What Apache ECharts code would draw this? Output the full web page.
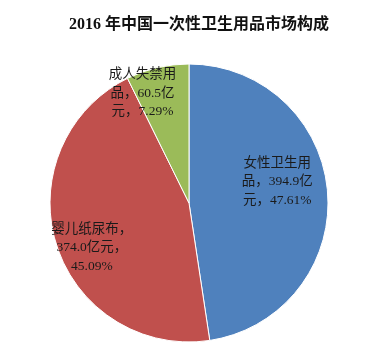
<!DOCTYPE html>
<html><head><meta charset="utf-8">
<script src="https://cdn.jsdelivr.net/npm/echarts@6/dist/echarts.min.js"></script>
<style>html,body{margin:0;padding:0;background:#fff;}#c{width:374px;height:359px;}</style>
</head><body><div id="c"></div>
<script>
const titleText = '2016 年中国一次性卫生用品市场构成';
const categories = ['女性卫生用品', '婴儿纸尿布', '成人失禁用品'];
const values = [394.9, 374.0, 60.5];
const percents = ['47.61%', '45.09%', '7.29%'];
const labelTexts = [
  '女性卫生用\n品，394.9亿\n元，47.61%',
  '婴儿纸尿布，\n374.0亿元，\n45.09%',
  '成人失禁用\n品，60.5亿\n元，7.29%'
];
const colors = ['#4F81BD', '#C0504D', '#9BBB59'];
const offsets = [[16, -16], [-28, 23], [-30, -39]];

const chart = echarts.init(document.getElementById('c'));
chart.setOption({
  animation: false,
  title: {
    text: titleText, left: 194, top: 12, textAlign: 'center',
    textStyle: { fontFamily: 'Liberation Serif, Noto Sans CJK SC', fontSize: 16, fontWeight: 'bold', color: '#111' }
  },
  series: [{
    type: 'pie',
    center: [189, 203],
    radius: [0, 139],
    startAngle: 90,
    clockwise: true,
    itemStyle: { borderColor: '#fff', borderWidth: 1 },
    label: {
      show: true, position: 'inside',
      fontFamily: 'Liberation Serif, Noto Sans CJK SC', fontSize: 13.5, lineHeight: 18.5,
      color: '#1a1a1a', align: 'center'
    },
    labelLine: { show: false },
    data: categories.map((c, i) => ({
      name: c, value: values[i],
      itemStyle: { color: colors[i] },
      label: { formatter: labelTexts[i], offset: offsets[i] }
    }))
  }]
});
</script></body></html>
